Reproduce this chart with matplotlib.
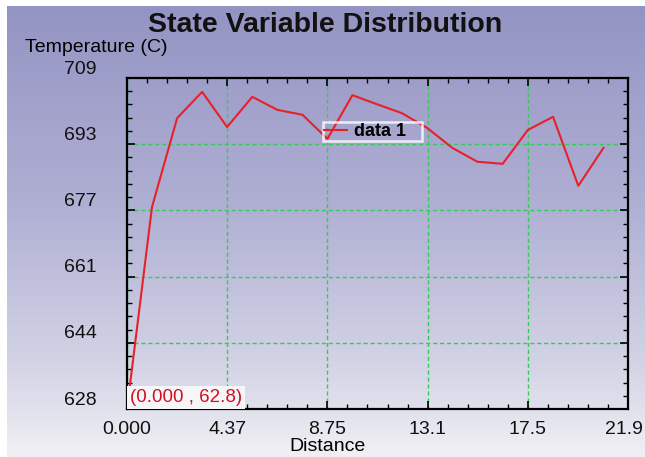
import numpy as np
import matplotlib.pyplot as plt
from matplotlib.colors import LinearSegmentedColormap
from matplotlib.transforms import ScaledTranslation
from matplotlib.ticker import AutoMinorLocator

plt.rcParams['font.family'] = ['Liberation Sans', 'DejaVu Sans']

# temperature profile along the sample
distance = [0.0, 1.09, 2.19, 3.28, 4.37, 5.47, 6.56, 7.66, 8.75, 9.84,
            10.9, 12.0, 13.1, 14.2, 15.3, 16.4, 17.5, 18.6, 19.7, 20.8]
temperature = [628.0, 677.4, 699.2, 705.6, 697.0, 704.4, 701.2, 700.0, 694.1, 704.8,
               702.6, 700.4, 696.8, 691.9, 688.5, 688.0, 696.3, 699.5, 682.6, 691.9]

x_ticks = [0.0, 4.374, 8.748, 13.122, 17.496, 21.87]
x_labels = ['0.000', '4.37', '8.75', '13.1', '17.5', '21.9']
y_ticks = [628.0, 644.2, 660.4, 676.6, 692.8, 709.0]
y_labels = ['628', '644', '661', '677', '693', '709']

fig = plt.figure(figsize=(6.45, 4.57), dpi=100)
fig.patch.set_facecolor('white')

# lavender gradient panel behind everything
bg = fig.add_axes([7 / 645, 0, 1 - 7 / 645, 1 - 6 / 457], zorder=-10)
cmap = LinearSegmentedColormap.from_list('bg', [
    (0.0, (148 / 255, 148 / 255, 196 / 255)),
    (0.45, (176 / 255, 176 / 255, 212 / 255)),
    (0.8, (212 / 255, 212 / 255, 230 / 255)),
    (1.0, (240 / 255, 240 / 255, 244 / 255)),
])
bg.imshow(np.linspace(0, 1, 256).reshape(-1, 1), aspect='auto', cmap=cmap,
          extent=[0, 1, 1, 0])
bg.axis('off')

ax = fig.add_axes([127 / 645, 48 / 457, 501 / 645, 331 / 457])
ax.patch.set_alpha(0)

ax.plot(distance, temperature, color='#e8202a', lw=1.5, label='data 1   ', zorder=3)

ax.set_xlim(0, 21.87)
ax.set_ylim(628, 709)
ax.set_xticks(x_ticks)
ax.set_xticklabels(x_labels)
ax.set_yticks(y_ticks)
ax.set_yticklabels(y_labels)
ax.xaxis.set_minor_locator(AutoMinorLocator(5))
ax.yaxis.set_minor_locator(AutoMinorLocator(5))

ax.tick_params(which='both', direction='in', top=True, right=True,
               color='black', labelsize=14, labelcolor='#111111')
ax.tick_params(which='major', length=6, width=1.2)
ax.tick_params(which='minor', length=3.6, width=1)
ax.tick_params(axis='x', pad=9)
ax.tick_params(axis='y', pad=22)

# y labels sit a little above their ticks
shift = ScaledTranslation(0, 11 / 100, fig.dpi_scale_trans)
for lab in ax.get_yticklabels():
    lab.set_transform(lab.get_transform() + shift)
# keep the last x label inside the figure
last = ax.get_xticklabels()[-1]
last.set_transform(last.get_transform() + ScaledTranslation(-4 / 100, 0, fig.dpi_scale_trans))

for sp in ax.spines.values():
    sp.set_linewidth(1.6)
    sp.set_color('black')

ax.grid(True, which='major', color='#33cc55', lw=1, linestyle=(0, (3, 2)))

ax.set_xlabel('Distance', fontsize=14)
ax.xaxis.set_label_coords(0.40, -0.113)
ax.xaxis.label.set_va('center')

fig.text(25 / 645, 1 - 48 / 457, 'Temperature (C)', fontsize=14, ha='left', va='center')
fig.text(0.504, 1 - 25 / 457, 'State Variable Distribution', fontsize=20.5,
         fontweight='bold', ha='center', va='center', color='#111111')

leg = ax.legend(loc='upper left', bbox_to_anchor=(0.391, 0.866), borderaxespad=0,
                fancybox=False, edgecolor='white', handlelength=1.3,
                handletextpad=0.4, borderpad=0.05, prop={'weight': 'bold', 'size': 13})
leg.get_frame().set_linewidth(1.8)
leg.get_frame().set_facecolor('none')

ax.annotate('(0.000 , 62.8)', xy=(0, 628), xytext=(3, 3), textcoords='offset pixels',
            color='#d01020', fontsize=13.5, ha='left', va='bottom',
            bbox=dict(boxstyle='square,pad=0.15', fc='#f6f6f9', ec='none'), zorder=4)

fig.savefig('out.png', dpi=100)
